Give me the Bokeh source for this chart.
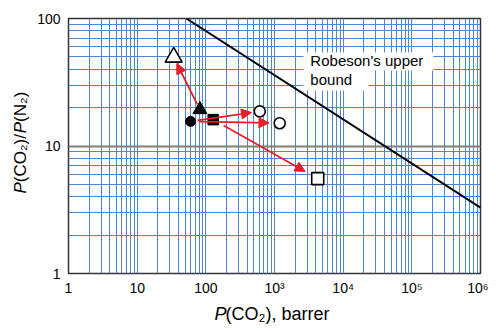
import math
from bokeh.plotting import figure
from bokeh.layouts import row, column
from bokeh.models import (FixedTicker, Arrow, NormalHead, Label, ColumnDataSource,
                          BoxAnnotation)
from bokeh.core.properties import value
from bokeh.embed import file_html
from bokeh.resources import INLINE

# ---- data ----
x_ticks = [1, 10, 100, 1000, 10000, 100000, 1000000]
x_tick_labels = ["1", "10", "100", "10³", "10⁴", "10⁵", "10⁶"]
y_ticks = [1, 10, 100]
y_tick_labels = ["1", "10", "100"]

# Robeson's upper bound (two end points of the line)
robeson_x = [52, 1000000]
robeson_y = [100, 3.28]

# before modification (filled markers)
filled_x = [60, 82, 128]
filled_y = [15.6, 19.3, 16.1]
filled_marker = ["circle", "triangle", "square"]

# after modification (open markers)
open_x = [34, 610, 1190, 4260]
open_y = [49.7, 18.7, 15.1, 5.55]
open_marker = ["triangle", "circle", "circle", "square"]

# arrows: index into filled -> index into open
arrow_from = [1, 0, 0, 2]
arrow_to = [0, 1, 2, 3]

# ---- styles ----
FONT = "Liberation Sans"
RED = "#e41f26"
GRID_BLUE = "#4f86cc"
size_of = {"circle": 10, "square": 10.5, "triangle": 14}
open_size_of = {"circle": 11, "square": 12, "triangle": 17}
START_T, END_T = 0.10, 0.88

p = figure(width=454, height=303, x_axis_type="log", y_axis_type="log",
           x_range=(1, 1e6), y_range=(1, 100),
           output_backend="svg", toolbar_location=None,
           min_border_left=34, min_border_right=8,
           min_border_top=18, min_border_bottom=30)
p.background_fill_color = "white"
p.border_fill_color = "white"
p.outline_line_color = "#333333"
p.outline_line_width = 1.5

x_minor = [m * t for t in x_ticks[:-1] for m in range(2, 10)]
y_minor = [m * t for t in y_ticks[:-1] for m in range(2, 10)]
p.xaxis.ticker = FixedTicker(ticks=x_ticks, minor_ticks=x_minor)
p.yaxis.ticker = FixedTicker(ticks=y_ticks, minor_ticks=y_minor)
p.xaxis.major_label_overrides = {t: l for t, l in zip(x_ticks, x_tick_labels)}
p.yaxis.major_label_overrides = {t: l for t, l in zip(y_ticks, y_tick_labels)}

for ax in (p.xaxis, p.yaxis):
    ax.axis_line_color = None
    ax.major_tick_line_color = None
    ax.minor_tick_line_color = None
    ax.major_tick_out = 0
    ax.major_tick_in = 0
    ax.minor_tick_out = 0
    ax.minor_tick_in = 0
    ax.major_label_text_font = FONT
    ax.major_label_text_font_size = "14px"
    ax.major_label_text_color = "black"
p.xaxis.major_label_standoff = 6
p.yaxis.major_label_standoff = 8

p.xgrid.grid_line_color = GRID_BLUE
p.xgrid.grid_line_width = 1
p.xgrid.minor_grid_line_color = GRID_BLUE
p.xgrid.minor_grid_line_width = 1
p.ygrid.grid_line_color = "#7f7f7f"
p.ygrid.grid_line_width = 2
p.ygrid.minor_grid_line_color = GRID_BLUE
p.ygrid.minor_grid_line_width = 1

# Robeson line
p.line(robeson_x, robeson_y, line_color="black", line_width=2)

# white backing boxes behind the label text
box_kw = dict(fill_color="white", fill_alpha=1.0, line_color=None)
p.add_layout(BoxAnnotation(left=2635, right=205000, top=54.1, bottom=39.1, **box_kw))
p.add_layout(BoxAnnotation(left=2635, right=23300, top=39.2, bottom=27.2, **box_kw))

lab_kw = dict(text_font=FONT, text_font_size="15px", text_color="black",
              text_align="left", text_baseline="middle")
p.add_layout(Label(x=3330, y=46.9, text="Robeson's upper", **lab_kw))
p.add_layout(Label(x=3330, y=33.2, text="bound", **lab_kw))

# arrows
def lerp_log(a, b, t):
    return 10 ** (math.log10(a) + t * (math.log10(b) - math.log10(a)))

ax0, ay0, ax1, ay1 = [], [], [], []
for i, j in zip(arrow_from, arrow_to):
    ax0.append(lerp_log(filled_x[i], open_x[j], START_T))
    ay0.append(lerp_log(filled_y[i], open_y[j], START_T))
    ax1.append(lerp_log(filled_x[i], open_x[j], END_T))
    ay1.append(lerp_log(filled_y[i], open_y[j], END_T))
asrc = ColumnDataSource(dict(x0=ax0, y0=ay0, x1=ax1, y1=ay1))
p.add_layout(Arrow(x_start="x0", y_start="y0", x_end="x1", y_end="y1", source=asrc,
                   line_color=RED, line_width=1.8,
                   end=NormalHead(size=10, fill_color=RED, line_color=RED, line_width=1)))

# markers
fsrc = ColumnDataSource(dict(x=filled_x, y=filled_y, m=filled_marker,
                             s=[size_of[m] for m in filled_marker]))
p.scatter("x", "y", marker="m", size="s", source=fsrc,
          fill_color="black", line_color="black", line_width=1)
osrc = ColumnDataSource(dict(x=open_x, y=open_y, m=open_marker,
                             s=[open_size_of[m] for m in open_marker]))
p.scatter("x", "y", marker="m", size="s", source=osrc,
          fill_color="white", line_color="black", line_width=1.6)


def text_fig(w, h):
    f = figure(width=w, height=h, x_range=(0, w), y_range=(0, h),
               x_axis_type=None, y_axis_type=None, output_backend="svg",
               toolbar_location=None, min_border=0)
    f.outline_line_color = None
    f.background_fill_color = "white"
    f.border_fill_color = "white"
    f.xgrid.visible = False
    f.ygrid.visible = False
    return f


def piece(f, x, y, text, size, italic=False, angle=0.0):
    f.text(x=[x], y=[y], text=[text], text_font=value(FONT), text_font_size=size,
           text_font_style="italic" if italic else "normal",
           text_align="left", text_baseline="middle", angle=angle,
           text_color="black")

# x title
xf = text_fig(454, 22)
piece(xf, 161, 12, "P", "18px", italic=True)
piece(xf, 173, 12, "(CO₂), barrer", "18px")

# y title (rotated)
yf = text_fig(34, 325)
A = math.pi / 2
piece(yf, 20, 132, "P", "17px", italic=True, angle=A)
piece(yf, 20, 143.3, "(CO₂)/", "17px", angle=A)
piece(yf, 20, 192.3, "P", "17px", italic=True, angle=A)
piece(yf, 20, 203.6, "(N₂)", "17px", angle=A)

layout = row(yf, column(p, xf))
open("out.html", "w").write(file_html(layout, INLINE))
